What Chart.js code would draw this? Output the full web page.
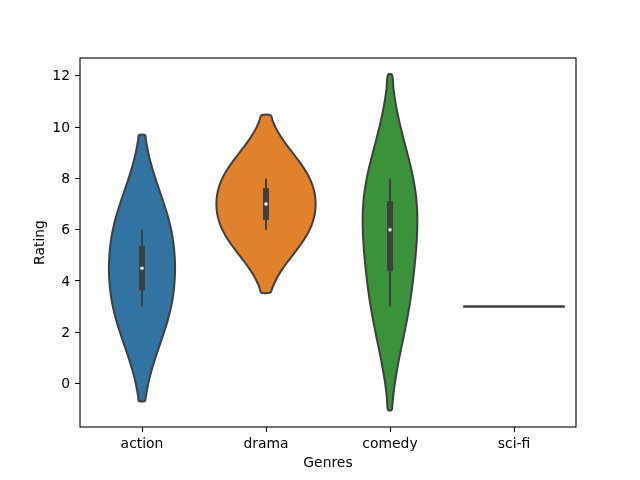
<!DOCTYPE html>
<html>
<head>
<meta charset="utf-8">
<script src="https://cdn.jsdelivr.net/npm/chart.js@4"></script>
<style>
  html, body { margin: 0; background: #fff; }
</style>
</head>
<body>
<canvas id="violinChart" width="640" height="480"></canvas>
<script>
const genres = ["action", "drama", "comedy", "sci-fi"];
const yTicks = [0, 2, 4, 6, 8, 10, 12];

// violin outlines: rating grid + relative density (1 = widest violin)
const actionRating = [-0.69, -0.5, 0, 0.5, 1, 1.5, 2, 2.5, 3, 3.5, 4, 4.5, 5, 5.5, 6, 6.5, 7, 7.5, 8, 8.5, 9, 9.5, 9.69];
const actionDensity = [0.063, 0.078, 0.126, 0.191, 0.27, 0.357, 0.445, 0.524, 0.588, 0.632, 0.658, 0.667, 0.658, 0.632, 0.588, 0.524, 0.445, 0.357, 0.27, 0.191, 0.126, 0.078, 0.063];

const dramaRating = [3.54, 3.75, 4, 4.25, 4.5, 4.75, 5, 5.25, 5.5, 5.75, 6, 6.25, 6.5, 6.75, 7, 7.25, 7.5, 7.75, 8, 8.25, 8.5, 8.75, 9, 9.25, 9.5, 9.75, 10, 10.25, 10.46];
const dramaDensity = [0.095, 0.133, 0.189, 0.26, 0.343, 0.437, 0.536, 0.635, 0.729, 0.812, 0.881, 0.934, 0.971, 0.993, 1, 0.993, 0.971, 0.934, 0.881, 0.812, 0.729, 0.635, 0.536, 0.437, 0.343, 0.26, 0.189, 0.133, 0.095];

const comedyRating = [-1.04, -0.5, 0, 0.5, 1, 1.5, 2, 2.5, 3, 3.5, 4, 4.5, 5, 5.5, 6, 6.5, 7, 7.5, 8, 8.5, 9, 9.5, 10, 10.5, 11, 11.5, 12.04];
const comedyDensity = [0.039, 0.065, 0.097, 0.139, 0.187, 0.24, 0.293, 0.344, 0.39, 0.429, 0.463, 0.492, 0.517, 0.537, 0.549, 0.551, 0.54, 0.512, 0.469, 0.412, 0.347, 0.279, 0.214, 0.155, 0.107, 0.07, 0.041];

// sci-fi has a single rating, drawn as a flat line
const sciFiRating = [3];
const sciFiDensity = [1];

// inner box plot
const boxLow = [3, 6, 3, 3];
const boxQ1 = [3.75, 6.5, 4.5, 3];
const boxMedian = [4.5, 7, 6, 3];
const boxQ3 = [5.25, 7.5, 7, 3];
const boxHigh = [6, 8, 8, 3];

const colors = ["#3274a1", "#e1812c", "#3a923a", "#c03d3e"];
const edgeColor = "#3f3f3f";
const halfWidth = 0.4;

const violins = [
  { rating: actionRating, density: actionDensity },
  { rating: dramaRating, density: dramaDensity },
  { rating: comedyRating, density: comedyDensity },
  { rating: sciFiRating, density: sciFiDensity },
];

const datasets = [];

violins.forEach((v, i) => {
  if (v.rating.length === 1) {
    datasets.push({
      data: [{ x: i - halfWidth, y: v.rating[0] }, { x: i + halfWidth, y: v.rating[0] }],
      showLine: true,
      borderColor: edgeColor,
      borderWidth: 2.5,
      borderCapStyle: "square",
      pointRadius: 0,
      order: 2,
    });
    return;
  }
  const right = v.rating.map((y, k) => ({ x: i + v.density[k] * halfWidth, y }));
  const left = v.rating.map((y, k) => ({ x: i - v.density[k] * halfWidth, y })).reverse();
  datasets.push({
    data: [...right, ...left, right[0]],
    showLine: true,
    fill: "shape",
    backgroundColor: colors[i],
    borderColor: edgeColor,
    borderWidth: 2,
    tension: 0.3,
    pointRadius: 0,
    order: 2,
  });
});

genres.forEach((g, i) => {
  if (boxLow[i] === boxHigh[i]) return;
  datasets.push({
    data: [{ x: i, y: boxLow[i] }, { x: i, y: boxHigh[i] }],
    showLine: true,
    borderColor: edgeColor,
    borderWidth: 2,
    pointRadius: 0,
    order: 1,
  });
  datasets.push({
    data: [{ x: i, y: boxQ1[i] }, { x: i, y: boxQ3[i] }],
    showLine: true,
    borderColor: edgeColor,
    borderWidth: 6,
    borderCapStyle: "square",
    pointRadius: 0,
    order: 1,
  });
  datasets.push({
    data: [{ x: i, y: boxMedian[i] }],
    pointRadius: 1.7,
    pointBackgroundColor: "#fff",
    pointBorderWidth: 0,
    order: 0,
  });
});

// full black frame round the plot area
const framePlugin = {
  id: "frame",
  afterDraw(chart) {
    const { ctx, chartArea: a } = chart;
    ctx.save();
    ctx.strokeStyle = "#000";
    ctx.lineWidth = 1.1;
    ctx.strokeRect(a.left, a.top, a.right - a.left, a.bottom - a.top);
    ctx.restore();
  },
};

Chart.defaults.font.family = "'DejaVu Sans', sans-serif";
Chart.defaults.font.size = 13.9;
Chart.defaults.color = "#000";

new Chart(document.getElementById("violinChart").getContext("2d"), {
  type: "scatter",
  data: { datasets },
  options: {
    responsive: false,
    animation: false,
    devicePixelRatio: 1,
    layout: { padding: { left: 0, right: 64, top: 58, bottom: 0 } },
    plugins: {
      legend: { display: false },
      tooltip: { enabled: false },
    },
    scales: {
      x: {
        type: "linear",
        min: -0.5,
        max: 3.5,
        afterBuildTicks: (scale) => {
          scale.ticks = genres.map((g, i) => ({ value: i }));
        },
        afterFit: (scale) => {
          scale.height = 53;
        },
        ticks: {
          callback: (value) => genres[value],
          autoSkip: false,
          maxRotation: 0,
          padding: 4,
          color: "#000",
        },
        grid: { drawOnChartArea: false, tickLength: 5, color: "#000", lineWidth: 1 },
        border: { display: false },
        title: { display: true, text: "Genres", color: "#000", padding: { top: 0, bottom: 8 } },
      },
      y: {
        type: "linear",
        min: -1.694,
        max: 12.694,
        afterBuildTicks: (scale) => {
          scale.ticks = yTicks.map((v) => ({ value: v }));
        },
        afterFit: (scale) => {
          scale.width = 80;
        },
        ticks: { padding: 5, labelOffset: 1, color: "#000" },
        grid: { drawOnChartArea: false, tickLength: 5, color: "#000", lineWidth: 1 },
        border: { display: false },
        title: { display: true, text: "Rating", color: "#000", padding: { top: 32, bottom: 0 } },
      },
    },
  },
  plugins: [framePlugin],
});
</script>
</body>
</html>
